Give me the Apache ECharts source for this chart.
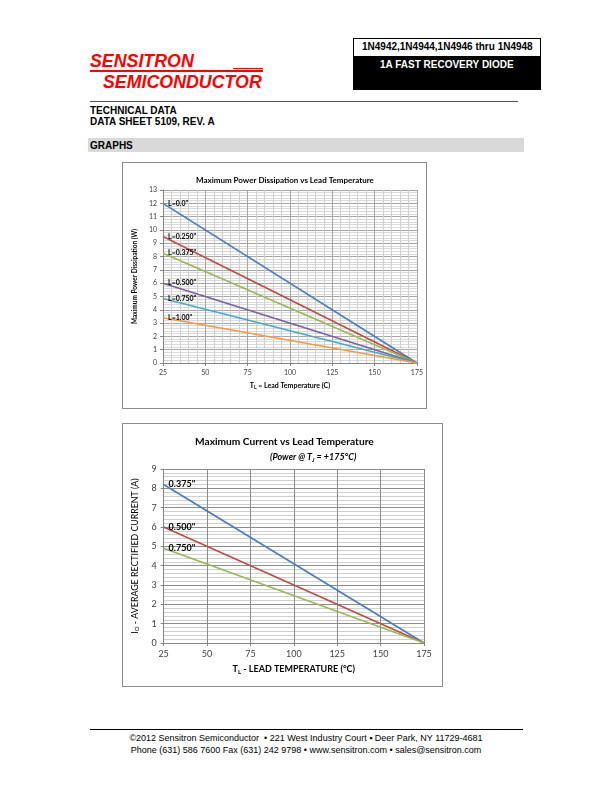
<!DOCTYPE html>
<html>
<head>
<meta charset="utf-8">
<script src="https://cdn.jsdelivr.net/npm/echarts@6/dist/echarts.min.js"></script>
<style>
html,body{margin:0;padding:0;background:#fff;}
body{width:612px;height:792px;position:relative;overflow:hidden;font-family:"Liberation Sans",Arial,sans-serif;}
.abs{position:absolute;white-space:nowrap;}
.logo{color:#ff0000;font-weight:bold;font-style:italic;font-size:17.8px;line-height:18px;}
.hdr{font-weight:bold;font-size:10px;line-height:11px;color:#000;}
.foot{font-size:9px;line-height:12px;color:#000;left:0;width:612px;text-align:center;}
</style>
</head>
<body>
<div class="abs logo" style="left:90px;top:52px;">SENSITRON</div>
<div class="abs" style="left:233px;top:68px;width:30px;height:1px;background:#ff0000;"></div>
<div class="abs" style="left:90px;top:70px;width:173px;height:2px;background:#ff0000;"></div>
<div class="abs logo" style="left:103px;top:73px;">SEMICONDUCTOR</div>

<div class="abs" style="left:353px;top:38px;width:186px;height:50px;border:1px solid #000;background:#fff;"></div>
<div class="abs" style="left:354px;top:56px;width:186px;height:33px;background:#000;"></div>
<div class="abs hdr" style="left:362px;top:41px;font-size:10px;">1N4942,1N4944,1N4946 thru 1N4948</div>
<div class="abs hdr" style="left:380px;top:59px;color:#fff;font-size:10px;">1A FAST RECOVERY DIODE</div>

<div class="abs" style="left:90px;top:101px;width:428px;height:1px;background:#555;"></div>
<div class="abs hdr" style="left:90px;top:105px;">TECHNICAL DATA</div>
<div class="abs hdr" style="left:90px;top:116px;">DATA SHEET 5109, REV. A</div>

<div class="abs" style="left:88px;top:138px;width:436px;height:14px;background:#d9d9d9;"></div>
<div class="abs hdr" style="left:90px;top:140px;">GRAPHS</div>

<div id="c1" class="abs" style="left:122px;top:162px;width:305px;height:247px;border:1px solid #8c8c8c;box-sizing:border-box;"></div>
<div id="c2" class="abs" style="left:122px;top:423px;width:321px;height:264px;border:1px solid #8c8c8c;box-sizing:border-box;"></div>

<div class="abs" style="left:90px;top:729px;width:433px;height:1px;background:#000;"></div>
<div class="abs foot" style="top:732px;">©2012 Sensitron Semiconductor &nbsp;• 221 West Industry Court ▪ Deer Park, NY 11729-4681</div>
<div class="abs foot" style="top:744px;">Phone (631) 586 7600 Fax (631) 242 9798 • www.sensitron.com • sales@sensitron.com</div>

<script>
// ---- data ----
const leadTemp = [25, 175];
const xTicks = [25, 50, 75, 100, 125, 150, 175];
// Chart 1: Maximum power dissipation (W)
const powerNames = ['L=0.0"', 'L=0.250"', 'L=0.375"', 'L=0.500"', 'L=0.750"', 'L=1.00"'];
const powerL000 = [12.0, 0];
const powerL250 = [9.5, 0];
const powerL375 = [8.25, 0];
const powerL500 = [6.0, 0];
const powerL750 = [4.85, 0];
const powerL100 = [3.4, 0];
// Chart 2: Maximum current (A)
const currentNames = ['0.375"', '0.500"', '0.750"'];
const current375 = [8.2, 0];
const current500 = [6.0, 0];
const current750 = [4.9, 0];

const colors1 = ['#4a7ebb', '#be4b48', '#98b954', '#7d60a0', '#46aac5', '#f79646'];
const colors2 = ['#4a7ebb', '#be4b48', '#98b954'];
const FONT = 'Lato, "Open Sans", "Liberation Sans", sans-serif';

function mkSeries(name, vals, color, lblSize) {
  return {
    name: name, type: 'line', symbol: 'circle', symbolSize: 0, showSymbol: true,
    silent: true, animation: false,
    itemStyle: {color: color},
    lineStyle: {color: color, width: 1.6},
    label: {show: false},
    data: vals.map((v, i) => {
      const d = {value: [leadTemp[i], v]};
      if (i === 0) {
        d.label = {show: true, position: 'right', distance: 5, formatter: name,
          fontFamily: FONT, fontSize: lblSize, fontWeight: 'bold', color: '#000'};
      }
      return d;
    })
  };
}

// ---- chart 1 ----
const c1 = echarts.init(document.getElementById('c1'), null, {renderer: 'canvas'});
const p1 = [powerL000, powerL250, powerL375, powerL500, powerL750, powerL100];
c1.setOption({
  animation: false,
  title: {text: 'Maximum Power Dissipation vs Lead Temperature', left: 68, top: 8,
    textStyle: {fontFamily: FONT, fontSize: 8, fontWeight: 'bold', color: '#000'}},
  grid: {left: 36, top: 27, right: 3, bottom: 45},
  xAxis: {type: 'value', min: 25, max: 175, interval: 25,
    name: 'T{s|L} = Lead Temperature (C)', nameLocation: 'middle', nameGap: 18,
    nameTextStyle: {fontFamily: FONT, fontSize: 7, fontWeight: 'bold', color: '#000',
      rich: {s: {fontSize: 5, fontWeight: 'bold', padding: [4, 0, 0, 0], fontFamily: FONT}}},
    axisLine: {lineStyle: {color: '#868686'}},
    axisTick: {show: true, length: 3, lineStyle: {color: '#868686'}},
    axisLabel: {fontFamily: FONT, fontSize: 7, color: '#404040', margin: 6},
    splitLine: {show: true, lineStyle: {color: '#a6a6a6', width: 1}},
    minorTick: {show: false, splitNumber: 5},
    minorSplitLine: {show: true, lineStyle: {color: '#d0d0d0', width: 1}}
  },
  yAxis: {type: 'value', min: 0, max: 13, interval: 1,
    name: 'Maximum Power Dissipation (W)', nameLocation: 'middle', nameGap: 18,
    nameTextStyle: {fontFamily: FONT, fontSize: 6.5, fontWeight: 'bold', color: '#000'},
    axisLine: {show: true, lineStyle: {color: '#868686'}},
    axisTick: {show: true, length: 3, lineStyle: {color: '#868686'}},
    axisLabel: {fontFamily: FONT, fontSize: 7, color: '#404040', margin: 6},
    splitLine: {show: true, lineStyle: {color: '#a6a6a6', width: 1}},
    minorTick: {show: false, splitNumber: 5},
    minorSplitLine: {show: true, lineStyle: {color: '#dadada', width: 1}}
  },
  series: p1.map((v, i) => mkSeries(powerNames[i], v, colors1[i], 7))
});

// ---- chart 2 ----
const c2 = echarts.init(document.getElementById('c2'), null, {renderer: 'canvas'});
const p2 = [current375, current500, current750];
c2.setOption({
  animation: false,
  title: [
    {text: 'Maximum Current vs Lead Temperature', left: 67, top: 8,
      textStyle: {fontFamily: FONT, fontSize: 10.2, fontWeight: 'bold', color: '#000'}},
    {text: '(Power @ T{s|J} = +175°C)', left: 142, top: 23,
      textStyle: {fontFamily: FONT, fontSize: 9, fontWeight: 'bold', fontStyle: 'italic', color: '#000',
        rich: {s: {fontSize: 6, fontWeight: 'bold', fontStyle: 'italic', padding: [5, 0, 0, 0], fontFamily: FONT}}}}
  ],
  grid: {left: 36, top: 45, right: 18, bottom: 43},
  xAxis: {type: 'value', min: 25, max: 175, interval: 25,
    name: 'T{s|L} - LEAD TEMPERATURE (°C)', nameLocation: 'middle', nameGap: 21,
    nameTextStyle: {fontFamily: FONT, fontSize: 9, fontWeight: 'bold', color: '#000',
      rich: {s: {fontSize: 6, fontWeight: 'bold', padding: [5, 0, 0, 0], fontFamily: FONT}}},
    axisLine: {lineStyle: {color: '#868686'}},
    axisTick: {show: true, length: 3, lineStyle: {color: '#868686'}},
    axisLabel: {fontFamily: FONT, fontSize: 9, color: '#404040', margin: 7},
    splitLine: {show: true, lineStyle: {color: '#8c8c8c', width: 1}}
  },
  yAxis: {type: 'value', min: 0, max: 9, interval: 1,
    name: 'I{s|O} - AVERAGE RECTIFIED CURRENT (A)', nameLocation: 'middle', nameGap: 17,
    nameTextStyle: {fontFamily: FONT, fontSize: 8.8, color: '#000',
      rich: {s: {fontSize: 6, padding: [4, 0, 0, 0], fontFamily: FONT}}},
    axisLine: {show: true, lineStyle: {color: '#868686'}},
    axisTick: {show: true, length: 3, lineStyle: {color: '#868686'}},
    axisLabel: {fontFamily: FONT, fontSize: 9, color: '#404040', margin: 7},
    splitLine: {show: true, lineStyle: {color: '#8c8c8c', width: 1}},
    minorTick: {show: false, splitNumber: 5},
    minorSplitLine: {show: true, lineStyle: {color: '#d0d0d0', width: 1}}
  },
  series: p2.map((v, i) => mkSeries(currentNames[i], v, colors2[i], 9))
});
</script>
</body>
</html>
